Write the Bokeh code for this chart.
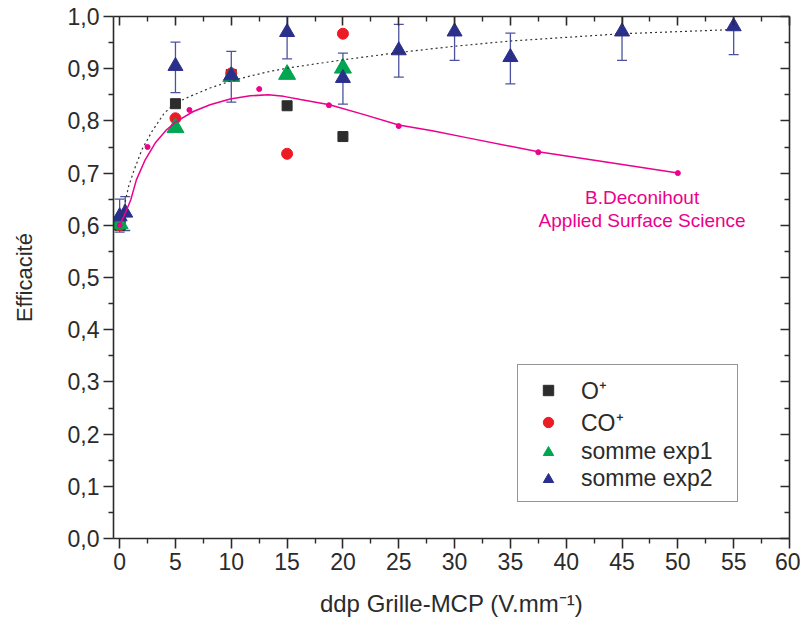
import numpy as np
from bokeh.plotting import figure
from bokeh.models import (LinearAxis, FixedTicker, CustomJSTickFormatter, Range1d,
                          Legend, LegendItem, Whisker, ColumnDataSource, Label, TeeHead)
from bokeh.embed import file_html
from bokeh.resources import INLINE

# ---------------- data ----------------
o_x = [0, 5, 10, 15, 20]
o_y = [0.600, 0.833, 0.889, 0.829, 0.770]

co_x = [0, 5, 10, 15, 20]
co_y = [0.600, 0.805, 0.891, 0.737, 0.967]

exp1_x = [0, 5, 10, 15, 20]
exp1_y = [0.603, 0.787, 0.885, 0.889, 0.901]

exp2_x = [0, 0.5, 5, 10, 15, 20, 25, 30, 35, 45, 55]
exp2_y = [0.617, 0.624, 0.905, 0.887, 0.970, 0.882, 0.935, 0.971, 0.922, 0.971, 0.981]
exp2_lo = [0.587, 0.590, 0.854, 0.836, 0.919, 0.832, 0.884, 0.916, 0.871, 0.916, 0.927]
exp2_hi = [0.650, 0.655, 0.951, 0.933, 1.020, 0.930, 0.985, 1.020, 0.968, 1.020, 1.030]

# B. Deconihout reference points
dec_x = [0, 2.5, 6.25, 12.5, 18.75, 25, 37.5, 50]
dec_y = [0.600, 0.750, 0.821, 0.861, 0.830, 0.790, 0.740, 0.700]

# smooth curve through Deconihout data
decfit_x = [0, 0.5, 1.0, 1.5, 2.3, 3.2, 4.2, 5.1, 6.6, 8.1, 9.9, 11.7, 13.3, 14.7,
            16.2, 18.8, 21.9, 25, 28, 31.3, 37.5, 44, 50]
decfit_y = [0.600, 0.623, 0.649, 0.687, 0.726, 0.758, 0.783, 0.799, 0.818, 0.831,
            0.842, 0.848, 0.850, 0.847, 0.841, 0.831, 0.812, 0.792, 0.781, 0.767,
            0.741, 0.720, 0.700]

# dotted fit through somme exp2
fit_x = [0.2, 0.8, 1.3, 2.0, 2.9, 4.0, 5.0, 6.3, 8.1, 9.9, 11.7, 13.5, 15, 17.5,
         20, 25, 30, 35, 40, 45, 50, 55]
fit_y = [0.617, 0.674, 0.706, 0.745, 0.780, 0.815, 0.834, 0.847, 0.863, 0.876,
         0.886, 0.895, 0.901, 0.909, 0.917, 0.931, 0.943, 0.953, 0.960, 0.967,
         0.971, 0.975]

x_ticks = [0, 5, 10, 15, 20, 25, 30, 35, 40, 45, 50, 55, 60]
x_minor = [2.5, 7.5, 12.5, 17.5, 22.5, 27.5, 32.5, 37.5, 42.5, 47.5, 52.5, 57.5]
y_ticks = [0.0, 0.1, 0.2, 0.3, 0.4, 0.5, 0.6, 0.7, 0.8, 0.9, 1.0]
y_minor = [0.05, 0.15, 0.25, 0.35, 0.45, 0.55, 0.65, 0.75, 0.85, 0.95]

x_label = "ddp Grille-MCP (V.mm\u207b\u00b9)"
y_label = "Efficacité"
legend_labels = ["O\u207a", "CO\u207a", "somme exp1", "somme exp2"]
annot_lines = ["B.Deconihout", "Applied Surface Science"]

# ---------------- style ----------------
FONT = "Liberation Sans"
AX = "#2b2b2b"
PINK = "#ec008c"
NAVY = "#2b2f8c"
GREEN = "#00a651"
RED = "#ed1c24"
BLACK = "#2d2d2d"

p = figure(width=800, height=622, output_backend="svg", toolbar_location=None,
           x_range=Range1d(-0.55, 60), y_range=Range1d(0, 1.0),
           x_axis_location=None, y_axis_location=None)
p.min_border_left = 113
p.min_border_right = 11
p.min_border_top = 16
p.min_border_bottom = 84
p.outline_line_color = None
p.xgrid.visible = False
p.ygrid.visible = False
p.background_fill_color = "white"
p.border_fill_color = "white"

xt = FixedTicker(ticks=x_ticks, minor_ticks=x_minor)
yt = FixedTicker(ticks=y_ticks, minor_ticks=y_minor)
empty = CustomJSTickFormatter(code="return ''")
comma = CustomJSTickFormatter(code="return tick.toFixed(1).replace('.', ',')")


def style(ax, inside):
    ax.axis_line_color = AX
    ax.axis_line_width = 1.6
    ax.major_tick_line_color = AX
    ax.minor_tick_line_color = AX
    ax.major_tick_line_width = 1.6
    ax.minor_tick_line_width = 1.4
    if inside:
        ax.major_tick_in, ax.major_tick_out = 9, 0
        ax.minor_tick_in, ax.minor_tick_out = 5, 0
        ax.major_label_standoff = 0
    else:
        ax.major_tick_in, ax.major_tick_out = 0, 10
        ax.minor_tick_in, ax.minor_tick_out = 0, 5
        ax.major_label_standoff = 4
    ax.major_label_text_font = FONT
    ax.major_label_text_font_size = "23px"
    ax.major_label_text_color = AX
    ax.axis_label_text_font = FONT
    ax.axis_label_text_font_style = "normal"
    ax.axis_label_text_color = AX


xb = LinearAxis(ticker=xt, axis_label=x_label)
style(xb, False)
xb.axis_label_text_font_size = "24px"
xb.axis_label_standoff = 17
p.add_layout(xb, "below")

yl = LinearAxis(ticker=yt, formatter=comma, axis_label=y_label)
style(yl, False)
yl.axis_label_text_font_size = "22px"
yl.axis_label_standoff = 28
p.add_layout(yl, "left")

xa = LinearAxis(ticker=xt, formatter=empty)
style(xa, True)
p.add_layout(xa, "above")

yr = LinearAxis(ticker=yt, formatter=empty)
style(yr, True)
p.add_layout(yr, "right")

# markers
r_o = p.scatter(o_x, o_y, marker="square", size=10, color=BLACK)
r_co = p.scatter(co_x, co_y, marker="circle", size=11, color=RED)
r_e1 = p.scatter(exp1_x, exp1_y, marker="triangle", size=17, color=GREEN)

src = ColumnDataSource(dict(x=exp2_x, lo=exp2_lo, hi=exp2_hi))
wh = Whisker(source=src, base="x", lower="lo", upper="hi",
             line_color="#4d52a0", line_width=1.3,
             upper_head=TeeHead(size=10, line_color="#4d52a0", line_width=1.3),
             lower_head=TeeHead(size=10, line_color="#4d52a0", line_width=1.3))
p.add_layout(wh)
r_e2 = p.scatter(exp2_x, exp2_y, marker="triangle", size=15, color=NAVY)

# legend proxies (smaller markers, as in the reference legend); their single
# point lies far outside the visible range so only the legend shows them
off_x, off_y = [-100], [-100]
l_o = p.scatter(off_x, off_y, marker="square", size=9, color=BLACK)
l_co = p.scatter(off_x, off_y, marker="circle", size=10, color=RED)
l_e1 = p.scatter(off_x, off_y, marker="triangle", size=13, color=GREEN)
l_e2 = p.scatter(off_x, off_y, marker="triangle", size=13, color=NAVY)

# curves
p.line(fit_x, fit_y, line_color="#333333", line_width=1.2, line_dash="2 3")
p.line(decfit_x, decfit_y, line_color=PINK, line_width=1.5)
p.scatter(dec_x, dec_y, marker="circle", size=5, color=PINK)

# annotation
p.add_layout(Label(x=46.8, y=0.654, text=annot_lines[0], text_align="center",
                   text_baseline="middle", text_font=FONT, text_font_size="19px",
                   text_color=PINK))
p.add_layout(Label(x=46.8, y=0.610, text=annot_lines[1], text_align="center",
                   text_baseline="middle", text_font=FONT, text_font_size="19px",
                   text_color=PINK))

legend = Legend(items=[LegendItem(label=legend_labels[0], renderers=[l_o]),
                       LegendItem(label=legend_labels[1], renderers=[l_co]),
                       LegendItem(label=legend_labels[2], renderers=[l_e1]),
                       LegendItem(label=legend_labels[3], renderers=[l_e2])],
                location=(404, 36), label_text_font=FONT, label_text_font_size="23px",
                label_text_color=AX, glyph_width=42, glyph_height=26, label_height=26,
                label_width=147, label_standoff=12, spacing=0, padding=9, margin=0,
                border_line_color=AX, border_line_width=1.2, background_fill_alpha=1)
p.add_layout(legend)

open("out.html", "w").write(file_html(p, INLINE))
